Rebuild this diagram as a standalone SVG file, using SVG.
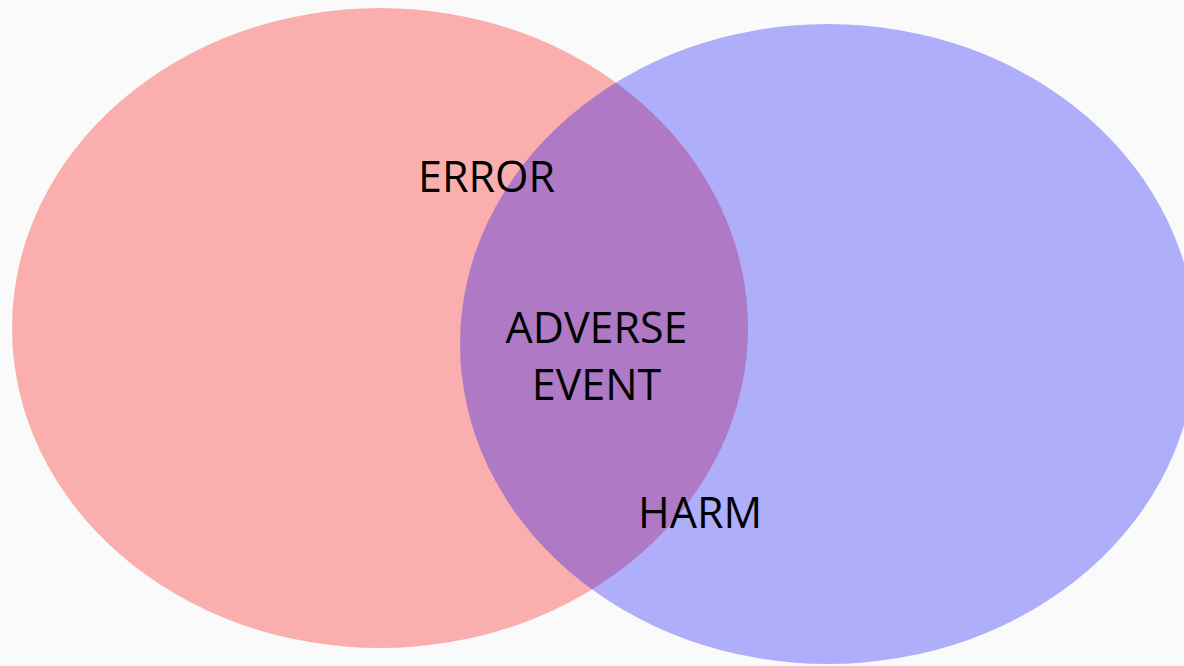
<svg xmlns="http://www.w3.org/2000/svg" width="1184" height="666" viewBox="0 0 1184 666">
<style>
.lbl{font-family:"Open Sans","Liberation Sans",sans-serif;font-size:43px;fill:#000}
</style>
<rect width="1184" height="666" fill="#fafafa"/>
<g id="error-set"><ellipse cx="380" cy="328" rx="368" ry="320" fill="#ff0000" fill-opacity="0.3"/></g>
<g id="harm-set"><ellipse cx="828" cy="344" rx="368" ry="320" fill="#0000ff" fill-opacity="0.3"/></g>
<g id="connectors"></g>
<g id="labels">
<text class="lbl" x="418" y="192">ERROR</text>
<text class="lbl" x="596.5" y="343" text-anchor="middle">ADVERSE</text>
<text class="lbl" x="596.5" y="400" text-anchor="middle">EVENT</text>
<text class="lbl" x="638" y="528">HARM</text>
</g>
</svg>
